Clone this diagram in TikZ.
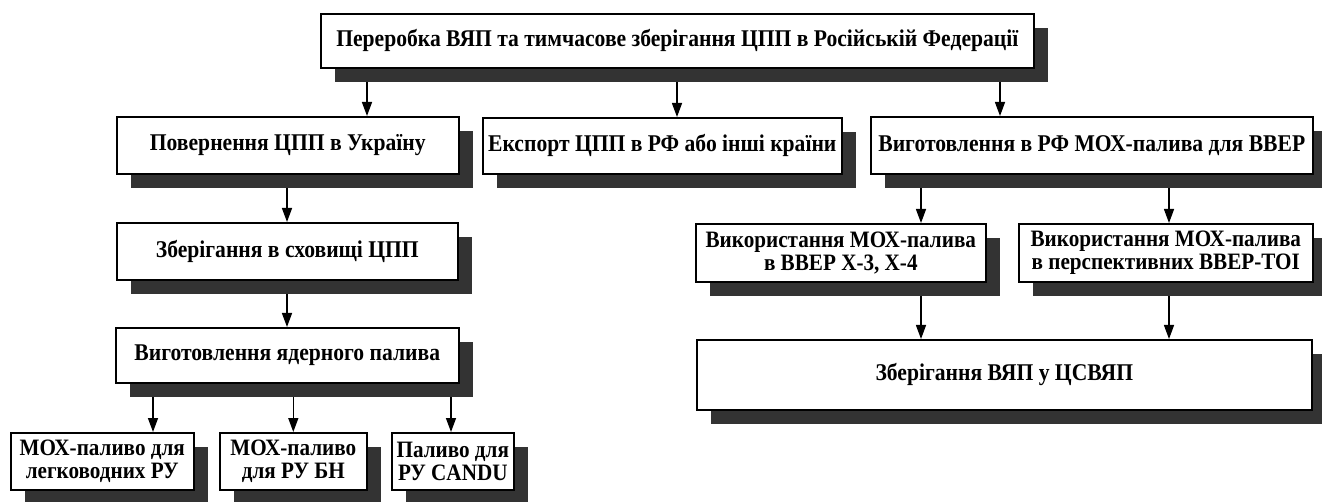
\documentclass[tikz,border=0pt]{standalone}
\usepackage{fontspec}
\setmainfont{Liberation Serif}[FakeStretch=0.9]
\usetikzlibrary{arrows.meta}
\definecolor{shadowc}{HTML}{333333}
\tikzset{
  box/.style={draw=black, line width=1.6pt, fill=white, inner sep=0pt, anchor=north west, align=center, font=\bfseries\fontsize{24}{26}\selectfont},
  smallbox/.style={box, font=\bfseries\fontsize{23.5}{23.5}\selectfont},
  shadowbox/.style={fill=shadowc, draw=none, inner sep=0pt, anchor=north west},
  arr/.style={line width=1.4pt, -{Triangle[width=10pt,length=14pt]}}
}
\newcommand\mkbox[7]{%
  \node[shadowbox, minimum width={#4-#2}, minimum height={#5-#3}] (#1-s) at (#2+15,#3+15) {};
  \node[#6, minimum width={#4-#2}, minimum height={#5-#3}] (#1) at (#2,#3) {#7};
}
\begin{document}
\begin{tikzpicture}[x=1pt, y=-1pt]
\useasboundingbox (0,0) rectangle (1322,502);
\mkbox{top}{320}{13}{1033}{67}{box}{Переробка ВЯП та тимчасове зберігання ЦПП в Російській Федерації}
\mkbox{pov}{116}{116}{458}{173}{box}{Повернення ЦПП в Україну}
\mkbox{exp}{482}{117}{841}{173}{box}{Експорт ЦПП в РФ або інші країни}
\mkbox{vyg}{870}{116}{1312}{173}{box}{Виготовлення в РФ МОХ-палива для ВВЕР}
\mkbox{zber}{116}{222}{457}{279}{box}{Зберігання в сховищі ЦПП}
\mkbox{yad}{115}{327}{458}{382}{box}{Виготовлення ядерного палива}
\mkbox{b1}{10}{432}{193}{489}{smallbox}{МОХ-паливо для\\легководних РУ}
\mkbox{b2}{219}{432}{366}{489}{smallbox}{МОХ-паливо\\для РУ БН}
\mkbox{b3}{391}{432}{513}{489}{smallbox}{Паливо для\\РУ CANDU}
\mkbox{r1}{695}{223}{985}{281}{smallbox}{Використання МОХ-палива\\в ВВЕР Х-3, Х-4}
\mkbox{r2}{1018}{223}{1312}{281}{smallbox}{Використання МОХ-палива\\в перспективних ВВЕР-ТОІ}
\mkbox{rb}{696}{339}{1311}{409}{box}{Зберігання ВЯП у ЦСВЯП}
\coordinate (xa) at (367,0);
\coordinate (xb) at (677,0);
\coordinate (xc) at (1000,0);
\coordinate (xd) at (287,0);
\coordinate (xe) at (153,0);
\coordinate (xf) at (921,0);
\coordinate (xg) at (1169,0);
\coordinate (xh) at (451,0);
\draw[arr] (top-s.south -| xa) -- (pov.north -| xa);
\draw[arr] (top-s.south -| xb) -- (exp.north -| xb);
\draw[arr] (top-s.south -| xc) -- (vyg.north -| xc);
\draw[arr] (pov-s.south -| xd) -- (zber.north -| xd);
\draw[arr] (zber-s.south -| xd) -- (yad.north -| xd);
\draw[arr] (yad-s.south -| xe) -- (b1.north -| xe);
\draw[arr] (yad-s.south -| b2.north) -- (b2.north);
\draw[arr] (yad-s.south -| xh) -- (b3.north -| xh);
\draw[arr] (vyg-s.south -| xf) -- (r1.north -| xf);
\draw[arr] (vyg-s.south -| xg) -- (r2.north -| xg);
\draw[arr] (r1-s.south -| xf) -- (rb.north -| xf);
\draw[arr] (r2-s.south -| xg) -- (rb.north -| xg);
\end{tikzpicture}
\end{document}
